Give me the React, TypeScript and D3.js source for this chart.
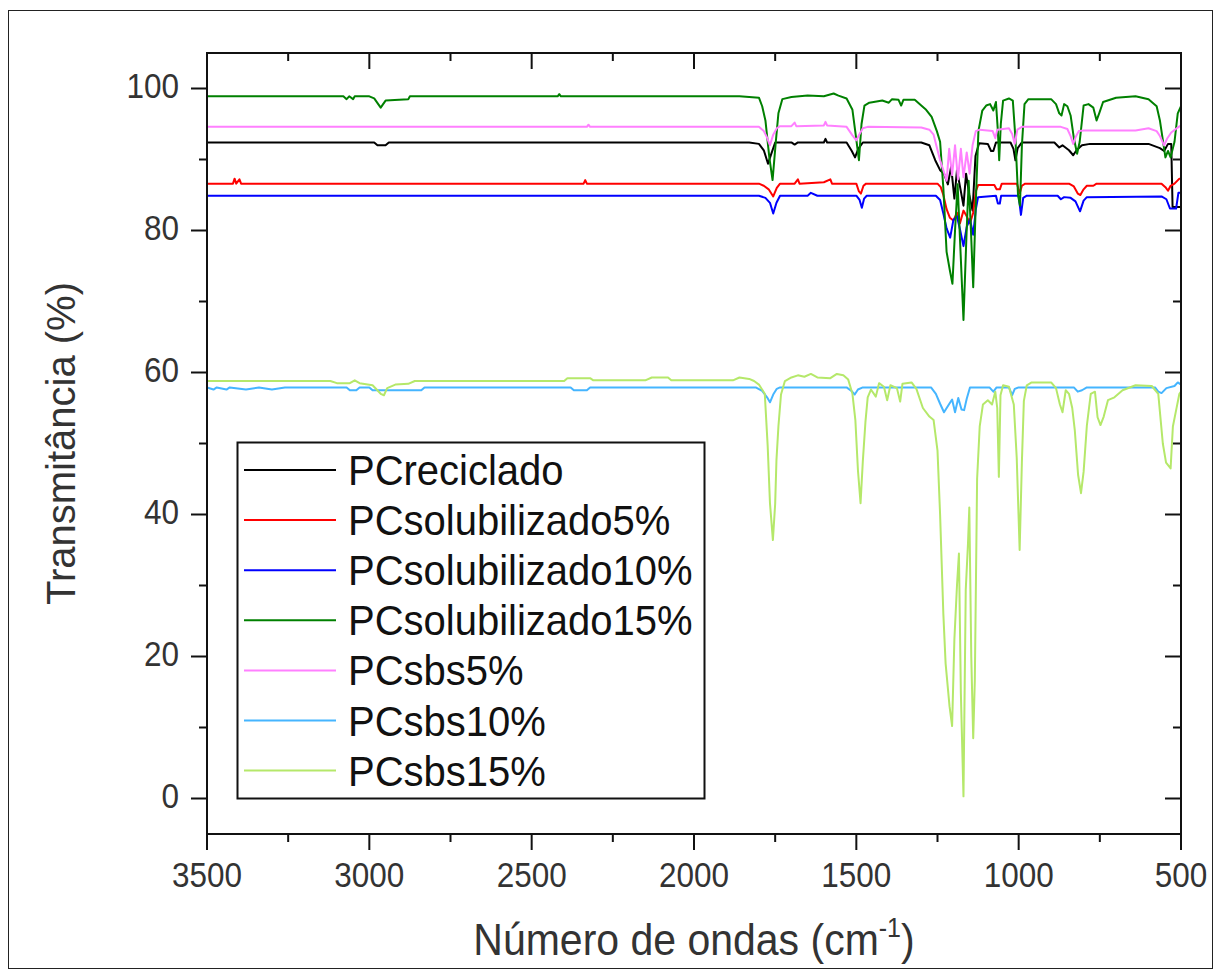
import * as d3 from 'd3';
import React from 'react';

// FTIR spectra: [wavenumber (cm-1), transmittance (%)]
type Pt = [number, number];

const xMajorTicks = [3500, 3000, 2500, 2000, 1500, 1000, 500];
const xMinorTicks = [3250, 2750, 2250, 1750, 1250, 750];
const yMajorTicks = [0, 20, 40, 60, 80, 100];
const yMinorTicks = [10, 30, 50, 70, 90];

const seriesNames = [
    'PCreciclado',
    'PCsolubilizado5%',
    'PCsolubilizado10%',
    'PCsolubilizado15%',
    'PCsbs5%',
    'PCsbs10%',
    'PCsbs15%',
];
const seriesColors = ['#000000', '#ff0000', '#0000ff', '#008000', '#ff80ff', '#45b5ff', '#b5e86a'];

const pcReciclado: Pt[] = [
    [3500, 92.4], [2985, 92.4], [2975, 92.0], [2950, 92.0], [2940, 92.4], [1830, 92.4], [1800, 92.2],
    [1785, 91.3], [1772, 89.4], [1762, 90.8], [1750, 92.4], [1700, 92.4], [1690, 92.1], [1680, 92.4],
    [1600, 92.4], [1595, 92.9], [1590, 92.4], [1530, 92.4], [1514, 91.2], [1504, 90.3], [1494, 91.5],
    [1480, 92.4], [1300, 92.4], [1275, 92.0], [1257, 89.9], [1242, 88.5], [1230, 88.0], [1218, 86.5],
    [1208, 89.0], [1198, 84.5], [1190, 88.5], [1180, 86.0], [1170, 83.5], [1162, 88.0], [1152, 85.0],
    [1142, 82.8], [1133, 90.5], [1122, 92.3], [1095, 92.2], [1085, 91.2], [1078, 91.2], [1070, 92.4],
    [1025, 92.4], [1016, 91.5], [1010, 89.9], [1003, 91.6], [990, 92.4], [890, 92.4], [875, 91.7],
    [865, 92.0], [845, 91.3], [832, 90.6], [822, 91.3], [805, 92.0], [780, 92.2], [600, 92.2],
    [565, 91.6], [552, 91.2], [540, 92.2], [530, 92.2], [526, 83.3], [500, 83.3],
];

const pcSolub5: Pt[] = [
    [3500, 86.6], [3420, 86.6], [3415, 87.3], [3410, 86.6], [3400, 87.2], [3395, 86.6], [2340, 86.6],
    [2335, 87.1], [2330, 86.6], [1800, 86.6], [1785, 86.3], [1770, 85.8], [1756, 84.8], [1745, 86.0],
    [1735, 86.6], [1690, 86.6], [1680, 87.2], [1675, 86.6], [1600, 86.8], [1580, 87.2], [1575, 86.6],
    [1500, 86.6], [1492, 85.5], [1486, 85.2], [1478, 86.3], [1470, 86.6], [1250, 86.6], [1240, 86.1],
    [1232, 85.0], [1222, 83.0], [1212, 81.8], [1201, 81.4], [1190, 82.5], [1181, 81.0], [1170, 82.8],
    [1160, 82.0], [1150, 81.0], [1140, 82.5], [1132, 85.5], [1125, 86.4], [1075, 86.4], [1068, 85.8],
    [1058, 85.8], [1052, 86.6], [1005, 86.6], [997, 85.2], [990, 86.3], [980, 86.6], [845, 86.6],
    [830, 86.2], [818, 85.2], [810, 85.0], [800, 85.8], [790, 86.3], [770, 86.3], [760, 86.6],
    [560, 86.6], [548, 86.1], [540, 85.6], [532, 86.3], [520, 86.6], [505, 87.3], [500, 87.3],
];

const pcSolub10: Pt[] = [
    [3500, 84.9], [1800, 84.9], [1780, 84.6], [1766, 83.9], [1756, 82.4], [1746, 83.9], [1735, 84.9],
    [1650, 84.9], [1640, 85.3], [1620, 84.9], [1500, 84.9], [1490, 84.3], [1483, 83.2], [1476, 84.5],
    [1468, 84.9], [1255, 84.9], [1242, 84.3], [1232, 82.4], [1222, 80.3], [1211, 79.0], [1201, 81.5],
    [1190, 82.0], [1180, 80.0], [1170, 77.8], [1160, 80.5], [1150, 81.6], [1140, 79.4], [1132, 83.0],
    [1125, 84.7], [1070, 84.9], [1064, 83.8], [1058, 83.8], [1054, 84.9], [1000, 84.9], [993, 82.2],
    [986, 84.6], [975, 84.9], [880, 84.9], [870, 84.4], [860, 84.7], [840, 84.6], [825, 84.1],
    [811, 82.7], [800, 84.2], [790, 84.7], [560, 84.8], [545, 84.4], [534, 83.1], [515, 83.1],
    [508, 85.3], [500, 85.3],
];

const pcSolub15: Pt[] = [
    [3500, 98.9], [3080, 98.9], [3070, 98.5], [3062, 98.9], [3050, 98.5], [3045, 98.9], [3000, 98.9],
    [2985, 98.6], [2965, 97.3], [2950, 98.3], [2880, 98.5], [2875, 98.9], [2420, 98.9], [2415, 99.2],
    [2410, 98.9], [1860, 98.9], [1800, 98.7], [1790, 97.5], [1780, 95.5], [1768, 90.3], [1758, 87.1],
    [1748, 92.5], [1740, 96.5], [1728, 98.5], [1700, 98.8], [1650, 99.0], [1600, 98.9], [1570, 99.3],
    [1555, 99.0], [1530, 98.6], [1512, 97.0], [1502, 93.5], [1492, 89.9], [1484, 95.0], [1475, 97.6],
    [1460, 98.0], [1420, 98.3], [1400, 98.0], [1390, 98.5], [1370, 98.4], [1362, 97.6], [1355, 98.4],
    [1320, 98.4], [1300, 97.6], [1285, 97.0], [1268, 96.0], [1252, 94.0], [1242, 92.5], [1232, 86.0],
    [1222, 77.0], [1212, 74.4], [1204, 72.5], [1196, 80.0], [1188, 86.5], [1180, 78.0], [1170, 67.4],
    [1161, 79.0], [1154, 87.0], [1147, 80.0], [1140, 72.0], [1132, 84.0], [1124, 94.0], [1112, 96.9],
    [1100, 97.6], [1088, 97.8], [1078, 96.9], [1070, 98.1], [1064, 94.0], [1060, 89.9], [1055, 95.0],
    [1048, 98.3], [1030, 98.6], [1018, 98.3], [1010, 93.0], [1002, 85.0], [996, 83.5], [990, 92.0],
    [982, 97.8], [970, 98.5], [900, 98.5], [885, 97.8], [875, 96.5], [868, 96.2], [860, 97.8],
    [850, 97.5], [840, 96.2], [830, 93.0], [820, 90.8], [812, 92.5], [800, 97.6], [785, 97.8],
    [770, 97.3], [760, 95.5], [752, 96.5], [740, 98.1], [700, 98.7], [640, 98.9], [600, 98.5],
    [575, 97.5], [565, 95.5], [548, 90.3], [540, 91.2], [532, 90.3], [520, 92.5], [510, 96.5], [500, 97.5],
];

const pcSbs5: Pt[] = [
    [3500, 94.6], [2330, 94.6], [2325, 94.9], [2320, 94.6], [1800, 94.6], [1785, 94.0], [1776, 93.2],
    [1766, 92.0], [1756, 93.5], [1745, 94.4], [1735, 94.7], [1700, 94.7], [1690, 95.2], [1685, 94.7],
    [1600, 94.8], [1595, 95.3], [1590, 94.8], [1530, 94.6], [1512, 93.4], [1500, 92.7], [1490, 93.6],
    [1480, 94.4], [1465, 94.6], [1300, 94.5], [1275, 94.2], [1262, 93.5], [1252, 91.7], [1242, 89.9],
    [1232, 88.5], [1222, 87.0], [1214, 91.5], [1205, 87.8], [1196, 92.0], [1187, 87.2], [1178, 91.5],
    [1170, 87.5], [1160, 91.0], [1151, 88.0], [1142, 92.0], [1132, 94.0], [1120, 94.2], [1080, 94.0],
    [1072, 93.0], [1066, 94.2], [1030, 94.4], [1020, 93.6], [1012, 92.2], [1004, 94.2], [990, 94.6],
    [870, 94.6], [850, 94.3], [840, 93.3], [832, 92.2], [824, 93.2], [815, 94.0], [800, 94.1],
    [640, 94.1], [600, 94.4], [575, 94.0], [565, 93.3], [552, 92.0], [542, 93.0], [530, 93.8],
    [510, 94.5], [500, 94.8],
];

const pcSbs10: Pt[] = [
    [3500, 57.9], [3480, 57.6], [3470, 57.9], [3440, 57.6], [3430, 57.9], [3380, 57.6], [3340, 57.9],
    [3300, 57.6], [3260, 57.9], [3070, 57.9], [3060, 57.5], [3040, 57.5], [3030, 57.9], [3000, 57.9],
    [2990, 57.5], [2840, 57.5], [2830, 57.9], [2380, 57.9], [2370, 57.5], [2330, 57.5], [2320, 57.9],
    [1810, 57.9], [1790, 57.4], [1775, 56.5], [1766, 55.8], [1756, 56.9], [1745, 57.7], [1735, 57.9],
    [1530, 57.9], [1515, 57.4], [1505, 56.9], [1495, 57.6], [1480, 57.9], [1270, 57.9], [1255, 57.0],
    [1242, 55.6], [1230, 54.4], [1215, 55.5], [1205, 56.2], [1196, 54.4], [1186, 56.4], [1176, 54.8],
    [1168, 54.7], [1160, 56.3], [1150, 57.9], [1090, 57.9], [1078, 57.3], [1068, 57.9], [1030, 57.9],
    [1020, 56.8], [1012, 57.7], [1000, 57.9], [830, 57.9], [818, 57.3], [805, 57.5], [790, 57.9],
    [580, 57.9], [570, 57.3], [560, 57.1], [545, 57.8], [520, 58.1], [510, 58.6], [500, 58.3],
];

const pcSbs15: Pt[] = [
    [3500, 58.8], [3120, 58.8], [3100, 58.5], [3060, 58.5], [3045, 58.9], [3030, 58.5], [2990, 58.2],
    [2965, 57.0], [2955, 56.8], [2945, 57.8], [2920, 58.3], [2880, 58.4], [2860, 58.8], [2400, 58.8],
    [2390, 59.2], [2320, 59.2], [2310, 58.9], [2150, 58.9], [2130, 59.3], [2080, 59.3], [2070, 58.9],
    [1880, 58.9], [1860, 59.3], [1830, 59.1], [1815, 58.8], [1800, 58.3], [1782, 57.0], [1773, 49.6],
    [1766, 41.6], [1757, 36.4], [1750, 41.5], [1746, 47.7], [1740, 52.4], [1732, 56.9], [1720, 58.8],
    [1700, 59.3], [1680, 59.6], [1660, 59.4], [1640, 59.8], [1620, 59.3], [1580, 59.2], [1560, 59.8],
    [1540, 59.6], [1525, 59.0], [1512, 57.0], [1503, 53.3], [1495, 46.2], [1487, 41.6], [1480, 47.5],
    [1472, 53.0], [1465, 56.5], [1455, 57.6], [1440, 56.6], [1430, 58.5], [1415, 58.0], [1405, 56.1],
    [1395, 58.2], [1375, 57.8], [1365, 55.9], [1358, 58.4], [1330, 58.6], [1315, 57.7], [1295, 55.0],
    [1275, 53.8], [1262, 53.3], [1250, 49.0], [1242, 40.0], [1237, 33.0], [1232, 26.0], [1225, 19.0],
    [1213, 13.0], [1205, 10.2], [1198, 22.4], [1190, 30.0], [1184, 34.5], [1178, 14.8], [1170, 0.3],
    [1163, 29.4], [1156, 36.0], [1152, 41.0], [1146, 20.0], [1140, 8.5], [1135, 16.7], [1128, 45.0],
    [1120, 52.4], [1110, 55.5], [1095, 56.1], [1082, 55.5], [1072, 57.3], [1066, 55.0], [1061, 45.3],
    [1056, 56.8], [1048, 58.2], [1030, 58.0], [1015, 55.5], [1006, 48.0], [997, 35.0], [990, 47.5],
    [984, 56.0], [975, 58.2], [960, 58.6], [900, 58.6], [885, 57.8], [873, 55.5], [865, 54.4],
    [855, 57.5], [845, 57.0], [835, 55.0], [827, 51.8], [817, 45.6], [808, 43.0], [800, 46.0],
    [790, 52.5], [778, 57.0], [765, 57.3], [757, 53.7], [748, 52.6], [738, 53.8], [725, 56.1],
    [705, 56.5], [680, 57.5], [640, 58.2], [590, 58.1], [570, 57.0], [556, 50.0], [546, 47.3],
    [532, 46.5], [525, 52.4], [515, 54.7], [505, 57.0], [500, 57.3],
];

const seriesData = [pcReciclado, pcSolub5, pcSolub10, pcSolub15, pcSbs5, pcSbs10, pcSbs15];

const App = () => {
    const width = 1221;
    const height = 971;
    const left = 207;
    const right = 1181;
    const top = 53;
    const bottom = 834;
    const font = "'Liberation Sans', Arial, sans-serif";
    const textColor = '#333';

    const x = d3.scaleLinear().domain([3500, 500]).range([left, right]);
    const y = d3.scaleLinear().domain([-5, 105]).range([bottom, top]);
    const line = d3.line<Pt>().x((d) => x(d[0])).y((d) => y(d[1]));

    // legend placement
    const lg = { x: 237.5, y: 442.5, w: 467, h: 356, first: 470, step: 50.1 };

    return (
        <>
            <style>{`body{margin:0}`}</style>
            <svg width={width} height={height} style={{ display: 'block', background: '#fff' }}>
                <rect x={8.5} y={10.5} width={1204} height={958} fill="none" stroke="#222" strokeWidth={1} />
                <defs>
                    <clipPath id="plot-clip">
                        <rect x={left} y={top} width={right - left} height={bottom - top} />
                    </clipPath>
                </defs>

                <g clipPath="url(#plot-clip)" fill="none" strokeWidth={2} strokeLinejoin="round">
                    {seriesData.map((s, i) => (
                        <path key={seriesNames[i]} d={line(s) ?? ''} stroke={seriesColors[i]} />
                    ))}
                </g>

                {/* axes frame */}
                <rect x={left} y={top} width={right - left} height={bottom - top} fill="none" stroke="#111" strokeWidth={2} />

                {/* x ticks: outward at bottom, inward at top */}
                <g stroke="#111" strokeWidth={2}>
                    {xMajorTicks.map((t) => (
                        <g key={'xM' + t}>
                            <line x1={x(t)} x2={x(t)} y1={bottom} y2={bottom + 16} />
                            <line x1={x(t)} x2={x(t)} y1={top} y2={top + 16} />
                        </g>
                    ))}
                    {xMinorTicks.map((t) => (
                        <g key={'xm' + t}>
                            <line x1={x(t)} x2={x(t)} y1={bottom} y2={bottom + 8} />
                            <line x1={x(t)} x2={x(t)} y1={top} y2={top + 8} />
                        </g>
                    ))}
                    {yMajorTicks.map((t) => (
                        <g key={'yM' + t}>
                            <line x1={left - 16} x2={left} y1={y(t)} y2={y(t)} />
                            <line x1={right - 16} x2={right} y1={y(t)} y2={y(t)} />
                        </g>
                    ))}
                    {yMinorTicks.map((t) => (
                        <g key={'ym' + t}>
                            <line x1={left - 8} x2={left} y1={y(t)} y2={y(t)} />
                            <line x1={right - 8} x2={right} y1={y(t)} y2={y(t)} />
                        </g>
                    ))}
                </g>

                <g fontFamily={font} fontSize={31.5} fill={textColor}>
                    {xMajorTicks.map((t) => (
                        <text key={'xl' + t} transform={`translate(${x(t)},887) scale(1,1.1)`} textAnchor="middle">
                            {t}
                        </text>
                    ))}
                    {yMajorTicks.map((t) => (
                        <text key={'yl' + t} transform={`translate(179,${y(t) + 9.5}) scale(1,1.1)`} textAnchor="end">
                            {t}
                        </text>
                    ))}
                </g>

                <text transform={`translate(${(left + right) / 2},955) scale(1,1.07)`} textAnchor="middle"
                    fontFamily={font} fontSize={41} fill={textColor}>
                    Número de ondas (cm<tspan fontSize={25} dy={-17}>-1</tspan><tspan dy={17}>)</tspan>
                </text>
                <text transform={`translate(75,${(top + bottom) / 2}) rotate(-90)`} textAnchor="middle"
                    fontFamily={font} fontSize={40} fill={textColor}>
                    Transmitância (%)
                </text>

                {/* legend */}
                <rect x={lg.x} y={lg.y} width={lg.w} height={lg.h} fill="#fff" stroke="#111" strokeWidth={2} />
                {seriesNames.map((name, i) => {
                    const ly = lg.first + i * lg.step;
                    return (
                        <g key={'lg' + name}>
                            <line x1={244} x2={336} y1={ly} y2={ly} stroke={seriesColors[i]} strokeWidth={2} />
                            <text transform={`translate(348,${ly + 15}) scale(1,1.05)`} fontFamily={font}
                                fontSize={40} fill="#111">
                                {name}
                            </text>
                        </g>
                    );
                })}
            </svg>
        </>
    );
};

export default App;
